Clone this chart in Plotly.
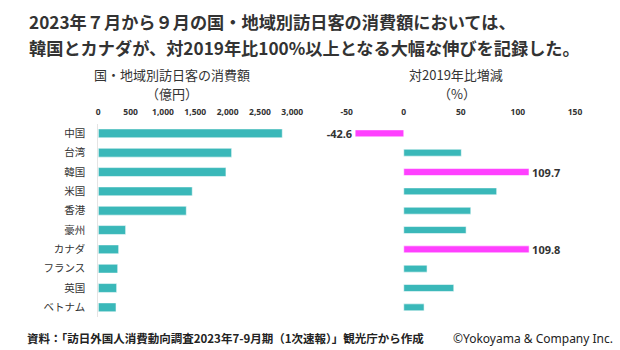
import plotly.graph_objects as go

categories = ["中国", "台湾", "韓国", "米国", "香港", "豪州", "カナダ", "フランス", "英国", "ベトナム"]
spend = [2845, 2062, 1974, 1453, 1361, 423, 315, 300, 284, 274]
change = [-42.6, 50.4, 109.7, 81.4, 58.7, 54.6, 109.8, 20.4, 43.8, 17.8]
highlight = [True, False, True, False, False, False, True, False, False, False]
spend_ticks = [0, 500, 1000, 1500, 2000, 2500, 3000]
change_ticks = [-50, 0, 50, 100, 150]

W, H = 620, 350
TEAL = "#3AB8B9"
MAGENTA = "#FF40FF"
DARK = "#333333"
JP = "Noto Sans CJK JP"


def px(x):
    return x / W


def py(y):
    return 1 - y / H


change_colors = [MAGENTA if h else TEAL for h in highlight]
change_text = [f"{v:.1f}" if h else "" for v, h in zip(change, highlight)]
spend_ticktext = [f"{v:,}" for v in spend_ticks]
change_ticktext = [str(v) for v in change_ticks]

fig = go.Figure()
fig.add_trace(go.Bar(
    y=categories, x=spend, orientation="h", xaxis="x", yaxis="y",
    marker=dict(color=TEAL, line=dict(color="rgba(255,255,255,0.55)", width=1)),
    width=0.46, hoverinfo="x+y",
))
fig.add_trace(go.Bar(
    y=categories, x=change, orientation="h", xaxis="x2", yaxis="y2",
    marker=dict(color=change_colors, line=dict(color="rgba(255,255,255,0.55)", width=1)),
    width=0.36, text=change_text, textposition="outside", cliponaxis=False,
    constraintext="none",
    textfont=dict(family="Noto Sans", size=11, color=DARK, weight="bold"),
    hoverinfo="x+y",
))

ydom = [py(317), py(123.7)]
tickfont = dict(family="Noto Sans", size=8.5, color=DARK, weight="bold")

fig.update_layout(
    width=W, height=H, margin=dict(l=0, r=0, t=0, b=0, autoexpand=False),
    paper_bgcolor="white", plot_bgcolor="white", showlegend=False,
    xaxis=dict(domain=[px(98.3), px(292.3)], range=[0, 3000], side="top", anchor="y",
               tickmode="array", tickvals=spend_ticks, ticktext=spend_ticktext,
               tickfont=tickfont,
               showgrid=False, zeroline=False, showline=False, ticks="",
               ticklabelstandoff=6, automargin=False),
    yaxis=dict(domain=ydom, categoryorder="array", categoryarray=categories,
               autorange="reversed", anchor="x",
               tickfont=dict(family=JP, size=10.5, color=DARK),
               showgrid=False, zeroline=False, showline=True, linecolor="#e4e4e4",
               linewidth=1, ticks="", ticklabelstandoff=10, automargin=False),
    xaxis2=dict(domain=[px(346.7), px(575)], range=[-50, 150], side="top", anchor="y2",
                tickmode="array", tickvals=change_ticks, ticktext=change_ticktext,
                tickfont=tickfont,
                showgrid=False, zeroline=False, showline=False, ticks="",
                ticklabelstandoff=6, automargin=False),
    yaxis2=dict(domain=ydom, categoryorder="array", categoryarray=categories,
                autorange="reversed", anchor="x2", showticklabels=False,
                showgrid=False, zeroline=False, showline=False, ticks="",
                automargin=False),
)

sub_font = dict(family=JP, size=13, color=DARK)
annotations = [
    dict(text="2023年７月から９月の国・地域別訪日客の消費額においては、", x=px(27), y=py(21),
         xanchor="left", yanchor="middle",
         font=dict(family=JP, size=17.2, color=DARK, weight="bold")),
    dict(text="韓国とカナダが、対2019年比100%以上となる大幅な伸びを記録した。", x=px(27), y=py(47),
         xanchor="left", yanchor="middle",
         font=dict(family=JP, size=17.2, color=DARK, weight="bold")),
    dict(text="国・地域別訪日客の消費額", x=px(172), y=py(74), xanchor="center",
         yanchor="middle", font=sub_font),
    dict(text="（億円）", x=px(172), y=py(93), xanchor="center",
         yanchor="middle", font=sub_font),
    dict(text="対2019年比増減", x=px(456), y=py(74), xanchor="center",
         yanchor="middle", font=sub_font),
    dict(text="（%）", x=px(457), y=py(93), xanchor="center",
         yanchor="middle", font=sub_font),
    dict(text="資料：「訪日外国人消費動向調査2023年7-9月期（1次速報）」観光庁から作成", x=px(25), y=py(338),
         xanchor="left", yanchor="middle",
         font=dict(family=JP, size=11.5, color="#222222", weight="bold")),
    dict(text="©Yokoyama & Company Inc.", x=px(615), y=py(338), xanchor="right", yanchor="middle",
         font=dict(family="Noto Sans", size=12, color="#222222")),
]
for a in annotations:
    a.update(xref="paper", yref="paper", showarrow=False)
fig.update_layout(annotations=annotations)

fig.write_html("out.html")
